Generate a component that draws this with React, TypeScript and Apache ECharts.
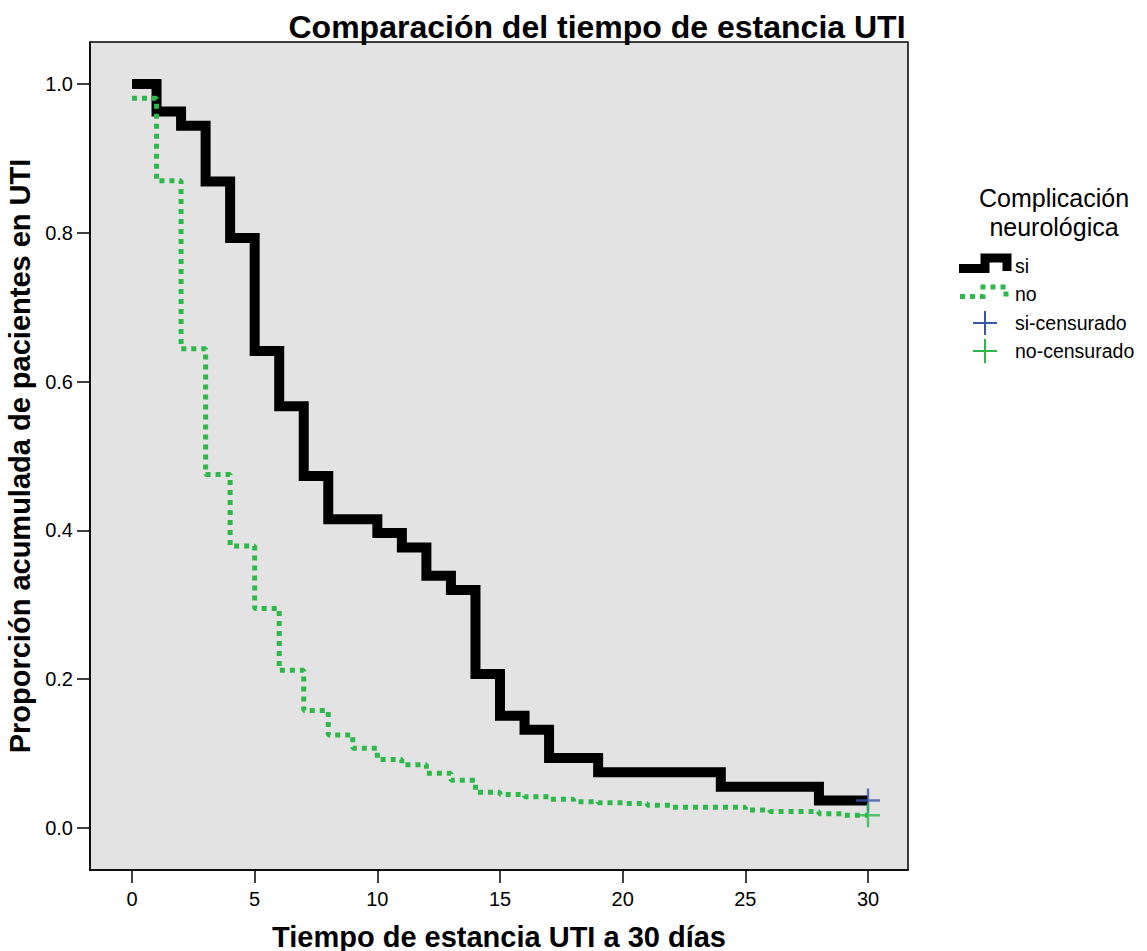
import React, { useEffect, useRef } from "react";
import * as echarts from "echarts";

const days = [0, 1, 2, 3, 4, 5, 6, 7, 8, 9, 10, 11, 12, 13, 14, 15, 16, 17, 18, 19, 20, 21, 22, 23, 24, 25, 26, 27, 28, 29, 30];
const siValues = [1.0, 0.963, 0.944, 0.869, 0.793, 0.641, 0.567, 0.473, 0.415, 0.415, 0.3965, 0.377, 0.339, 0.32, 0.207, 0.151, 0.132, 0.094, 0.094, 0.075, 0.075, 0.075, 0.075, 0.075, 0.0555, 0.0555, 0.0555, 0.0555, 0.037, 0.037, 0.037];
const noValues = [0.981, 0.87, 0.644, 0.475, 0.379, 0.295, 0.212, 0.158, 0.125, 0.107, 0.092, 0.085, 0.0735, 0.064, 0.048, 0.045, 0.042, 0.0386, 0.0354, 0.034, 0.033, 0.0305, 0.028, 0.028, 0.028, 0.024, 0.022, 0.022, 0.019, 0.017, 0.017];
const siCensored = [[30, 0.037]];
const noCensored = [[30, 0.017]];
const xTicks = [0, 5, 10, 15, 20, 25, 30];
const yTicks = [0, 0.2, 0.4, 0.6, 0.8, 1.0];

const title = "Comparación del tiempo de estancia UTI";
const xTitle = "Tiempo de estancia UTI a 30 días";
const yTitle = "Proporción acumulada de pacientes en UTI";
const legendTitleLines = ["Complicación", "neurológica"];
const legendLabels = ["si", "no", "si-censurado", "no-censurado"];

const BLACK = "#000000";
const GREEN = "#2eb84b";
const BLUE = "#3a55a8";
const PLUS = "path://M9,0 h2 v20 h-2 z M0,9 h20 v2 h-20 z";
const FONT = "'Liberation Sans', Arial, sans-serif";

export default function App() {
  const ref = useRef<HTMLDivElement>(null);
  useEffect(() => {
    const chart = echarts.init(ref.current!, null, { renderer: "svg" });
    const siData = days.map((d, i) => [d, siValues[i]]);
    const noData = days.map((d, i) => [d, noValues[i]]);
    chart.setOption({
      animation: false,
      backgroundColor: "#ffffff",
      textStyle: { fontFamily: FONT },
      grid: {
        left: 90,
        top: 42,
        width: 818,
        height: 828,
        containLabel: false,
        outerBoundsMode: "none",
        show: true,
        backgroundColor: "#e3e3e3",
        borderColor: "#000",
        borderWidth: 1.5,
      },
      xAxis: {
        type: "value",
        min: -1.712,
        max: 31.63,
        name: xTitle,
        nameLocation: "middle",
        nameGap: 52,
        nameTextStyle: { fontSize: 29, fontWeight: "bold", color: "#000", fontFamily: FONT },
        axisLine: { show: true, onZero: false, lineStyle: { color: "#000", width: 1.5 } },
        axisTick: { show: true, customValues: xTicks, length: 13, lineStyle: { color: "#000", width: 1.5 } },
        axisLabel: { customValues: xTicks, fontSize: 20, color: "#000", margin: 19, fontFamily: FONT },
        splitLine: { show: false },
      },
      yAxis: {
        type: "value",
        min: -0.0565,
        max: 1.0565,
        name: yTitle,
        nameLocation: "middle",
        nameGap: 52,
        nameTextStyle: { fontSize: 29, fontWeight: "bold", color: "#000", fontFamily: FONT },
        axisLine: { show: true, onZero: false, lineStyle: { color: "#000", width: 1.5 } },
        axisTick: { show: true, customValues: yTicks, length: 13, lineStyle: { color: "#000", width: 1.5 } },
        axisLabel: {
          customValues: yTicks,
          fontSize: 20,
          color: "#000",
          margin: 17,
          fontFamily: FONT,
          formatter: (v: number) => v.toFixed(1),
        },
        splitLine: { show: false },
      },
      series: [
        {
          type: "line",
          name: "si",
          step: "end",
          data: siData,
          symbol: "none",
          lineStyle: { color: BLACK, width: 10, join: "miter", cap: "butt" },
          z: 3,
        },
        {
          type: "line",
          name: "no",
          step: "end",
          data: noData,
          symbol: "none",
          lineStyle: { color: GREEN, width: 5, type: [5, 5] },
          z: 4,
        },
        {
          type: "scatter",
          name: "si-censurado",
          data: siCensored,
          symbol: PLUS,
          symbolSize: 24,
          itemStyle: { color: BLUE },
          z: 5,
        },
        {
          type: "scatter",
          name: "no-censurado",
          data: noCensored,
          symbol: PLUS,
          symbolSize: 24,
          itemStyle: { color: GREEN },
          z: 5,
        },
      ],
      graphic: [
        {
          type: "text",
          x: 597,
          y: 27,
          style: {
            text: title,
            fill: "#000",
            font: `bold 32px ${FONT}`,
            textAlign: "center",
            textVerticalAlign: "middle",
          },
        },
        ...legendTitleLines.map((t, i) => ({
          type: "text",
          x: 1054,
          y: [198, 227][i],
          style: {
            text: t,
            fill: "#000",
            font: `25px ${FONT}`,
            textAlign: "center",
            textVerticalAlign: "middle",
          },
        })),
        {
          type: "polyline",
          shape: { points: [[959, 268.5], [985, 268.5], [985, 258], [1007, 258], [1007, 271]] },
          style: { stroke: BLACK, lineWidth: 9, fill: "none", lineJoin: "miter" },
        },
        {
          type: "polyline",
          shape: { points: [[960, 296.5], [983, 296.5], [983, 287], [1006, 287], [1006, 298]] },
          style: { stroke: GREEN, lineWidth: 5, fill: "none", lineDash: [5, 5] },
        },
        { type: "rect", shape: { x: 984, y: 311, width: 2, height: 24 }, style: { fill: BLUE } },
        { type: "rect", shape: { x: 973, y: 322, width: 24, height: 2 }, style: { fill: BLUE } },
        { type: "rect", shape: { x: 984, y: 339, width: 2, height: 24 }, style: { fill: GREEN } },
        { type: "rect", shape: { x: 973, y: 350, width: 24, height: 2 }, style: { fill: GREEN } },
        ...legendLabels.map((t, i) => ({
          type: "text",
          x: 1015,
          y: [266, 294, 323, 351][i],
          style: {
            text: t,
            fill: "#000",
            font: `19.5px ${FONT}`,
            textAlign: "left",
            textVerticalAlign: "middle",
          },
        })),
      ],
    });
    return () => chart.dispose();
  }, []);
  return <div ref={ref} style={{ position: "fixed", left: 0, top: 0, width: 1147, height: 951 }} />;
}
